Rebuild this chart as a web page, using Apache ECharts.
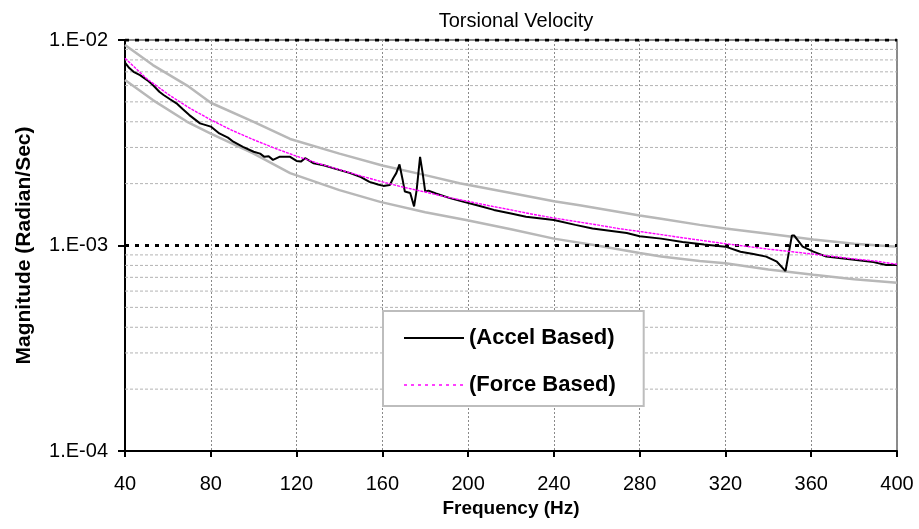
<!DOCTYPE html>
<html>
<head>
<meta charset="utf-8">
<script src="https://cdn.jsdelivr.net/npm/echarts@6/dist/echarts.min.js"></script>
<style>
  html, body { margin: 0; padding: 0; background: #fff; }
  #chart { width: 919px; height: 529px; }
</style>
</head>
<body>
<div id="chart"></div>
<script>
// ---- data ----
const chartTitle = 'Torsional Velocity';
const xAxisTitle = 'Frequency (Hz)';
const yAxisTitle = 'Magnitude (Radian/Sec)';

const accelFreq = [40, 42, 44, 47, 49, 51, 53, 56, 58, 61, 64, 67, 70, 75, 80, 84, 88, 90.5, 95, 100,
  103, 105, 107, 109, 112, 117, 120, 122, 124, 128, 133, 137, 145, 150, 154, 158, 160.5, 163.5, 165, 166.5,
  168, 169.5, 170.5, 173, 174.8, 176, 177.6, 178.8, 180, 181.5, 185, 191.5, 198, 205, 212, 220, 227, 240, 250, 258,
  266, 274, 280, 290, 300, 310, 320, 327, 333, 339, 344, 348, 351, 352, 356, 361, 367, 375, 381, 389, 395, 400];
const accelMag = [7.76e-3, 7.3e-3, 7.0e-3, 6.75e-3, 6.52e-3, 6.3e-3, 6.04e-3, 5.6e-3, 5.4e-3, 5.15e-3, 4.92e-3, 4.6e-3, 4.31e-3, 3.93e-3, 3.79e-3, 3.51e-3, 3.35e-3, 3.2e-3, 3.02e-3, 2.86e-3,
  2.8e-3, 2.7e-3, 2.72e-3, 2.61e-3, 2.7e-3, 2.7e-3, 2.58e-3, 2.56e-3, 2.66e-3, 2.51e-3, 2.45e-3, 2.38e-3, 2.25e-3, 2.15e-3, 2.04e-3, 1.98e-3, 1.95e-3, 1.97e-3, 2.12e-3, 2.25e-3,
  2.48e-3, 2.08e-3, 1.83e-3, 1.8e-3, 1.55e-3, 1.86e-3, 2.7e-3, 2.25e-3, 1.83e-3, 1.85e-3, 1.79e-3, 1.7e-3, 1.63e-3, 1.56e-3, 1.49e-3, 1.43e-3, 1.38e-3, 1.33e-3, 1.26e-3, 1.21e-3,
  1.18e-3, 1.15e-3, 1.11e-3, 1.08e-3, 1.04e-3, 1.01e-3, 9.87e-4, 9.33e-4, 9.1e-4, 8.83e-4, 8.34e-4, 7.51e-4, 1.12e-3, 1.12e-3, 9.87e-4, 9.33e-4, 8.83e-4, 8.65e-4, 8.5e-4, 8.3e-4, 8.04e-4, 8.04e-4];

const forceFreq = [40, 50, 60, 70, 80, 90, 100, 110, 120, 130, 140, 150, 160, 170, 180, 190, 200, 210, 220,
  230, 240, 250, 260, 270, 280, 290, 300, 310, 320, 330, 340, 350, 360, 370, 380, 390, 400];
const forceMag = [8.15e-3, 6.5e-3, 5.45e-3, 4.67e-3, 4.09e-3, 3.63e-3, 3.27e-3, 2.97e-3, 2.72e-3, 2.51e-3, 2.34e-3, 2.18e-3, 2.04e-3, 1.92e-3, 1.82e-3, 1.72e-3, 1.64e-3, 1.56e-3, 1.49e-3,
  1.42e-3, 1.36e-3, 1.31e-3, 1.26e-3, 1.21e-3, 1.17e-3, 1.13e-3, 1.09e-3, 1.055e-3, 1.02e-3, 9.9e-4, 9.6e-4, 9.35e-4, 9.1e-4, 8.85e-4, 8.6e-4, 8.4e-4, 8.1e-4];

const upperFreq = [40, 53, 69, 80, 100, 117, 140, 160, 180, 196, 220, 240, 252, 280, 290, 308, 320, 340, 361, 380, 400];
const upperMag = [9.46e-3, 7.55e-3, 6.0e-3, 4.95e-3, 4.0e-3, 3.3e-3, 2.8e-3, 2.45e-3, 2.2e-3, 2.01e-3, 1.8e-3, 1.64e-3, 1.57e-3, 1.4e-3, 1.35e-3, 1.26e-3, 1.21e-3, 1.14e-3, 1.07e-3, 1.02e-3, 9.87e-4];

const lowerFreq = [40, 53, 69, 80, 100, 117, 140, 159, 180, 199, 220, 240, 260, 280, 290, 308, 320, 340, 361, 380, 400];
const lowerMag = [6.39e-3, 5.1e-3, 4.0e-3, 3.5e-3, 2.8e-3, 2.25e-3, 1.86e-3, 1.63e-3, 1.45e-3, 1.33e-3, 1.2e-3, 1.08e-3, 1.0e-3, 9.2e-4, 8.85e-4, 8.4e-4, 8.2e-4, 7.65e-4, 7.2e-4, 6.85e-4, 6.59e-4];

// reference (limit) lines, grid levels and tick labels
const refLevels = [1e-3, 1e-2];
const xMin = 40, xMax = 400, xStep = 40;
const yTickValues = [1e-4, 1e-3, 1e-2];
const yTickLabels = ['1.E-04', '1.E-03', '1.E-02'];
const minorGridValues = [2e-4, 3e-4, 4e-4, 5e-4, 6e-4, 7e-4, 8e-4, 9e-4,
  2e-3, 3e-3, 4e-3, 5e-3, 6e-3, 7e-3, 8e-3, 9e-3];

const seriesNames = ['(Accel Based)', '(Force Based)'];

// ---- build ----
const zip = (xs, ys) => xs.map((x, i) => [x, ys[i]]);
const FONT = 'Liberation Sans, Arial, sans-serif';

const gridSeries = minorGridValues.map(v => ({
  type: 'line', silent: true, symbol: 'none', z: 1,
  data: [[xMin, v], [xMax, v]],
  lineStyle: { color: '#b3b3b3', width: 1, type: [3, 2] }
}));
const refSeries = refLevels.map(v => ({
  type: 'line', silent: true, symbol: 'none', z: 3,
  data: [[xMin, v], [xMax, v]],
  lineStyle: { color: '#000', width: 3, type: [4, 6] }
}));

const chart = echarts.init(document.getElementById('chart'), null, { renderer: 'canvas' });

const option = {
  animation: false,
  backgroundColor: '#ffffff',
  title: {
    text: chartTitle,
    left: 511, top: 6, textAlign: 'center',
    textStyle: { fontFamily: FONT, fontSize: 20, fontWeight: 'normal', color: '#000' }
  },
  grid: {
    left: 125, right: 22, top: 40, bottom: 78,
    show: true, borderColor: '#8c8c8c', borderWidth: 2, backgroundColor: '#fff'
  },
  legend: {
    left: 383, top: 311,
    orient: 'vertical',
    data: [
      { name: seriesNames[0] },
      { name: seriesNames[1], lineStyle: { type: [3, 4], width: 1.5, color: '#ff00ff' } }
    ],
    itemWidth: 60, itemHeight: 14, itemGap: 25,
    padding: [16, 28, 10, 20],
    itemStyle: { opacity: 0 },
    borderColor: '#bdbdbd', borderWidth: 2, backgroundColor: '#ffffff',
    textStyle: { fontFamily: FONT, fontSize: 22, fontWeight: 'bold', color: '#000' },
    selectedMode: false
  },
  xAxis: {
    type: 'value', min: xMin, max: xMax, interval: xStep,
    name: xAxisTitle, nameLocation: 'middle', nameGap: 46,
    nameTextStyle: { fontFamily: FONT, fontSize: 19, fontWeight: 'bold', color: '#000' },
    axisLine: { show: true, lineStyle: { color: '#000', width: 2 } },
    axisTick: { show: true, length: 6, lineStyle: { color: '#000', width: 2 } },
    axisLabel: { margin: 23, fontFamily: FONT, fontSize: 20, color: '#000' },
    splitLine: { show: true, lineStyle: { color: '#8a8a8a', width: 1, type: [2, 2] } }
  },
  yAxis: {
    type: 'log', logBase: 10, min: 1e-4, max: 1e-2,
    name: yAxisTitle, nameLocation: 'middle', nameGap: 90,
    nameTextStyle: { fontFamily: FONT, fontSize: 21, fontWeight: 'bold', color: '#000' },
    axisLine: { show: true, lineStyle: { color: '#000', width: 2 } },
    axisTick: { show: true, length: 7, lineStyle: { color: '#000', width: 2 } },
    axisLabel: {
      margin: 17, fontFamily: FONT, fontSize: 20, color: '#000',
      formatter: v => {
        const e = Math.round(Math.log10(v));
        const i = yTickValues.findIndex(t => Math.round(Math.log10(t)) === e);
        return i >= 0 ? yTickLabels[i] : '';
      }
    },
    splitLine: { show: false }
  },
  series: [
    ...gridSeries,
    {
      name: 'lower', type: 'line', data: zip(lowerFreq, lowerMag),
      symbol: 'none', silent: true, z: 2,
      lineStyle: { color: '#b8b8b8', width: 2.5 }
    },
    {
      name: 'upper', type: 'line', data: zip(upperFreq, upperMag),
      symbol: 'none', silent: true, z: 2,
      lineStyle: { color: '#b8b8b8', width: 2.5 }
    },
    ...refSeries,
    {
      name: seriesNames[0], type: 'line', data: zip(accelFreq, accelMag),
      symbol: 'none', z: 4,
      itemStyle: { color: '#000' },
      lineStyle: { color: '#000', width: 2 }
    },
    {
      name: seriesNames[1], type: 'line', data: zip(forceFreq, forceMag),
      symbol: 'none', z: 5,
      itemStyle: { color: '#ff00ff' },
      lineStyle: { color: '#ff00ff', width: 1.4, type: [3, 1] }
    }
  ]
};
chart.setOption(option);
</script>
</body>
</html>
